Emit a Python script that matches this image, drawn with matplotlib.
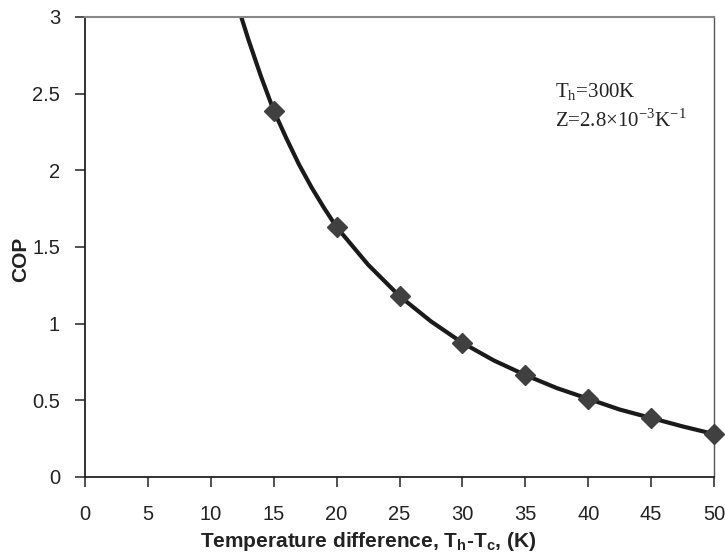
from matplotlib import pyplot as plt
from matplotlib.ticker import FuncFormatter
import numpy as np

# marker points
dT_pts = [15, 20, 25, 30, 35, 40, 45, 50]
cop_pts = [2.39, 1.63, 1.18, 0.875, 0.665, 0.51, 0.385, 0.28]

# smooth curve points
dT_line = [12, 13, 14, 15, 16, 17, 18, 19, 20, 22.5, 25, 27.5, 30,
           32.5, 35, 37.5, 40, 42.5, 45, 47.5, 50]
cop_line = [3.11, 2.85, 2.61, 2.39, 2.21, 2.04, 1.89, 1.755, 1.63, 1.385, 1.18,
            1.015, 0.875, 0.76, 0.665, 0.58, 0.51, 0.44, 0.385, 0.33, 0.28]

plt.rcParams['mathtext.fontset'] = 'custom'
plt.rcParams['mathtext.rm'] = 'Liberation Serif'
plt.rcParams['mathtext.bf'] = 'Liberation Sans:bold'

fig = plt.figure(figsize=(7.25, 5.56), dpi=100)
ax = fig.add_axes([85 / 725, 79 / 556, 629 / 725, 460 / 556])

ax.plot(dT_line, cop_line, color='#1a1a1a', lw=3, solid_capstyle='butt')
ax.plot(dT_pts, cop_pts, 'D', color='#404040', ms=10, clip_on=False, zorder=3)

ax.set_xlim(0, 50)
ax.set_ylim(0, 3)
ax.set_xticks(np.arange(0, 51, 5))
ax.set_yticks(np.arange(0, 3.01, 0.5))
ax.yaxis.set_major_formatter(FuncFormatter(lambda v, p: f"{v:g}"))

for s in ['left', 'bottom']:
    ax.spines[s].set_color('#222222')
    ax.spines[s].set_linewidth(1.3)
ax.spines['top'].set_color('#888888')
ax.spines['top'].set_linewidth(1.5)
ax.spines['right'].set_color('#555555')
ax.spines['right'].set_linewidth(1.0)

ax.tick_params(direction='out', length=7, width=1.1, color='#222222',
               labelsize=14.5, labelcolor='#222222', top=False, right=False)
ax.tick_params(axis='x', pad=13)
ax.tick_params(axis='y', pad=11)
for lab in ax.get_xticklabels() + ax.get_yticklabels():
    lab.set_family('Liberation Sans')

ax.set_xlabel(r'Temperature difference, T$_\mathbf{h}$-T$_\mathbf{c}$, (K)',
              family='Liberation Sans', fontweight='bold', fontsize=15,
              color='#222222', labelpad=6)
ax.xaxis.set_label_coords(0.45, -0.115)
ax.set_ylabel('COP', family='Liberation Sans', fontweight='bold', fontsize=15,
              color='#222222')
ax.yaxis.set_label_coords(-0.088, 0.474)

ax.text(0.748, 0.826, r'T$_\mathrm{h}$=300K', transform=ax.transAxes,
        family='Liberation Serif', fontsize=15, color='#222222')
ax.text(0.748, 0.761, r'Z=2.8×10$^\mathrm{-3}$K$^\mathrm{-1}$', transform=ax.transAxes,
        family='Liberation Serif', fontsize=15, color='#222222')

plt.savefig('out.png', dpi=100)
